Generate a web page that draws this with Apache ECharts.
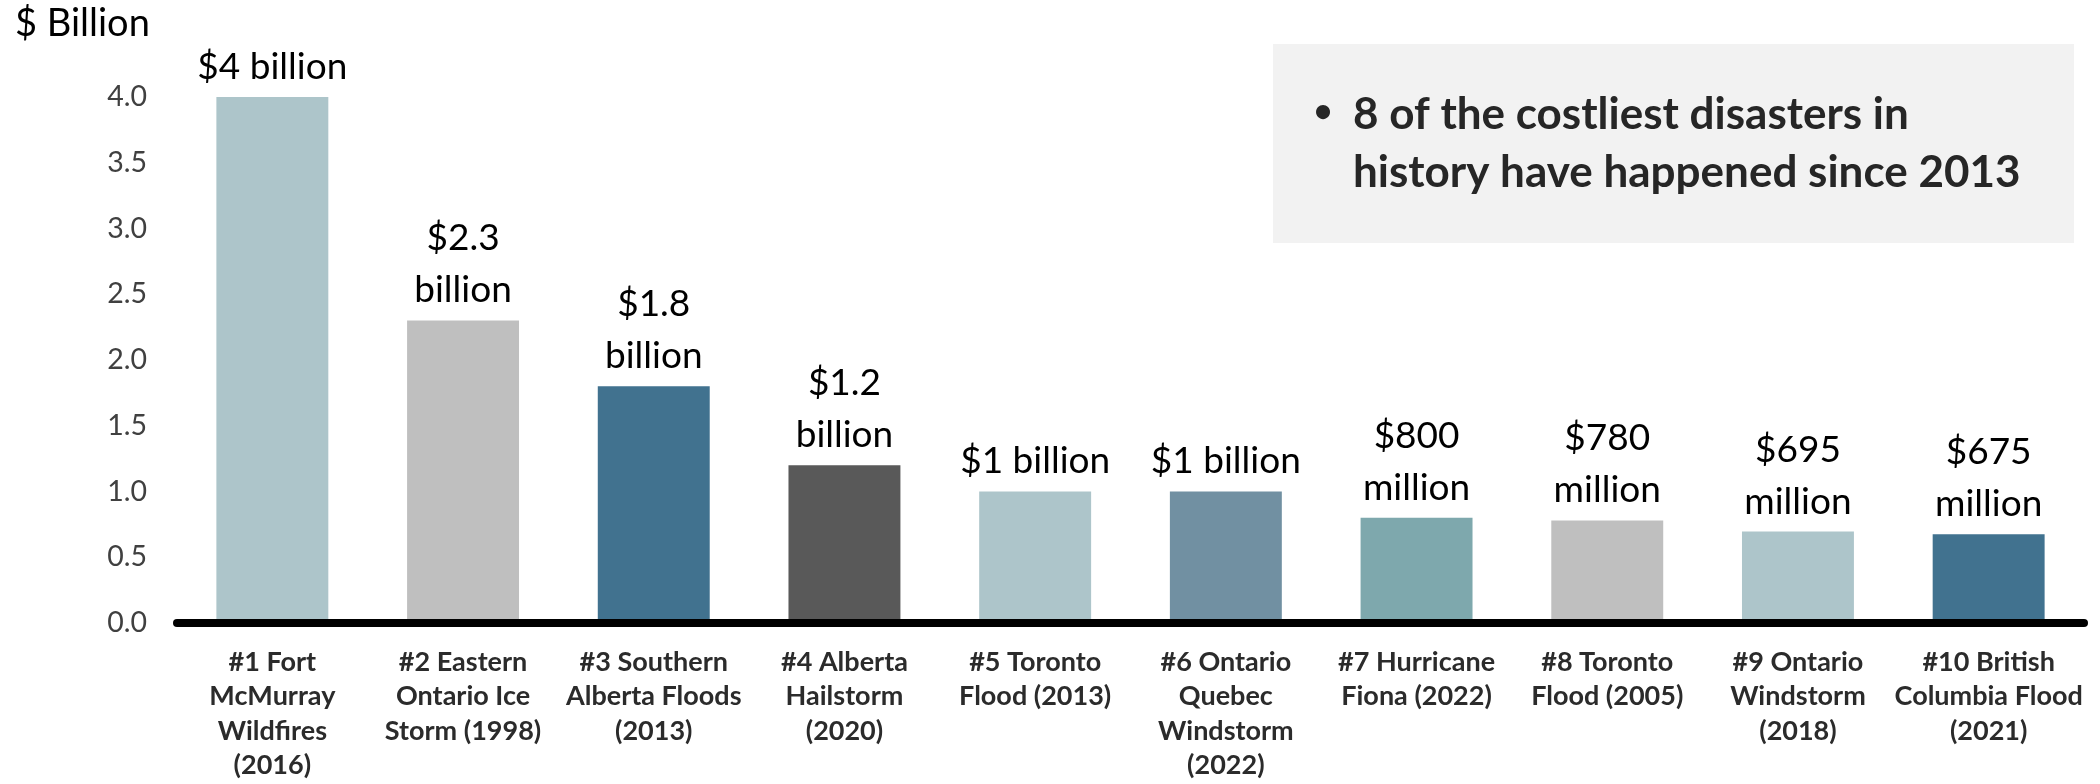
<!DOCTYPE html>
<html>
<head>
<meta charset="utf-8">
<script src="https://cdn.jsdelivr.net/npm/echarts@6/dist/echarts.min.js"></script>
<style>
  html, body { margin: 0; padding: 0; background: #ffffff; }
  #chart { width: 2100px; height: 784px; }
</style>
</head>
<body>
<div id="chart"></div>
<script>
// Ten costliest insured disasters in Canada, in $ billion
const categories = [
  '#1 Fort\nMcMurray\nWildfires\n(2016)',
  '#2 Eastern\nOntario Ice\nStorm (1998)',
  '#3 Southern\nAlberta Floods\n(2013)',
  '#4 Alberta\nHailstorm\n(2020)',
  '#5 Toronto\nFlood (2013)',
  '#6 Ontario\nQuebec\nWindstorm\n(2022)',
  '#7 Hurricane\nFiona (2022)',
  '#8 Toronto\nFlood (2005)',
  '#9 Ontario\nWindstorm\n(2018)',
  '#10 British\nColumbia Flood\n(2021)'
];
const costs = [4, 2.3, 1.8, 1.2, 1.0, 1.0, 0.8, 0.78, 0.695, 0.675];
const costLabels = [
  '$4 billion', '$2.3\nbillion', '$1.8\nbillion', '$1.2\nbillion',
  '$1 billion', '$1 billion', '$800\nmillion', '$780\nmillion',
  '$695\nmillion', '$675\nmillion'
];
const barColors = [
  '#ADC5CA', '#BFBFBF', '#41728F', '#595959', '#ADC5CA',
  '#7190A2', '#7EA8AD', '#BFBFBF', '#ADC5CA', '#41728F'
];
const yAxisTitle = '$ Billion';
const noteLines = ['8 of the costliest disasters in', 'history have happened since 2013'];

const FONT = 'Lato, "Open Sans", sans-serif';

const chart = echarts.init(document.getElementById('chart'), null, { renderer: 'canvas' });

chart.setOption({
  animation: false,
  backgroundColor: '#ffffff',
  grid: { left: 177, right: 16, top: 97, bottom: 161, containLabel: false },
  xAxis: {
    type: 'category',
    data: categories,
    z: 5,
    axisLine: { show: true, lineStyle: { color: '#000000', width: 8 } },
    axisTick: { show: false },
    axisLabel: {
      interval: 0,
      margin: 22,
      fontFamily: FONT,
      fontSize: 27,
      fontWeight: 'bold',
      lineHeight: 34.5,
      color: '#2b2b2b',
      align: 'center'
    }
  },
  yAxis: {
    type: 'value',
    min: 0,
    max: 4,
    interval: 0.5,
    axisLine: { show: false },
    axisTick: { show: false },
    splitLine: { show: false },
    axisLabel: {
      margin: 30,
      fontFamily: FONT,
      fontSize: 28.5,
      color: '#404040',
      formatter: v => v.toFixed(1)
    }
  },
  series: [{
    type: 'bar',
    barWidth: '58.7%',
    data: costs.map((v, i) => ({ value: v, itemStyle: { color: barColors[i] } })),
    label: {
      show: true,
      position: 'top',
      distance: 4,
      fontFamily: FONT,
      fontSize: 37,
      lineHeight: 52,
      color: '#000000',
      align: 'center',
      formatter: p => costLabels[p.dataIndex]
    }
  }],
  graphic: [
    {
      type: 'text',
      left: 15,
      top: 5,
      style: { text: yAxisTitle, font: '38px ' + FONT, fill: '#000000' }
    },
    {
      type: 'rect',
      shape: { x: 1273, y: 44, width: 801, height: 199 },
      style: { fill: '#F2F2F2' },
      z: 0
    },
    {
      type: 'text',
      x: 1323, y: 112,
      style: { text: '\u2022', font: 'bold 32px ' + FONT, fill: '#262626', align: 'center', verticalAlign: 'middle' },
      z: 1
    },
    {
      type: 'text',
      x: 1353, y: 115,
      style: { text: noteLines[0], font: 'bold 44px ' + FONT, fill: '#262626', align: 'left', verticalAlign: 'middle' },
      z: 1
    },
    {
      type: 'text',
      x: 1353, y: 173,
      style: { text: noteLines[1], font: 'bold 44px ' + FONT, fill: '#262626', align: 'left', verticalAlign: 'middle' },
      z: 1
    }
  ]
});
</script>
</body>
</html>
